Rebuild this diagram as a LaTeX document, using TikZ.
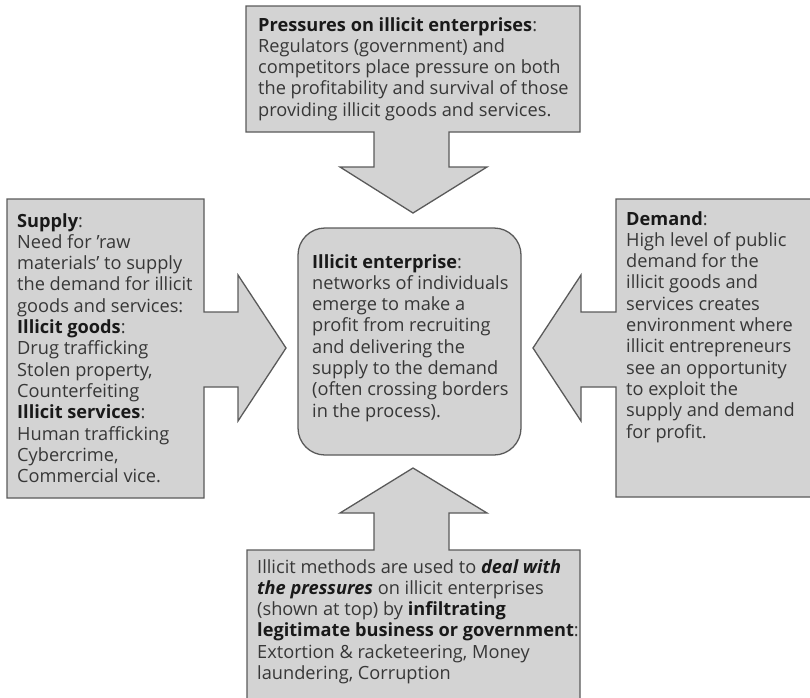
\documentclass[tikz,border=0pt]{standalone}
\usepackage{fontspec}
\setmainfont{Open Sans}
\definecolor{boxfill}{RGB}{211,211,211}
\definecolor{boxline}{RGB}{90,90,90}
\definecolor{txtcol}{RGB}{55,55,55}
\definecolor{hdcol}{RGB}{25,25,25}
\newcommand{\mybf}[1]{\textcolor{hdcol}{\textbf{#1}}}
\newcommand{\mybi}[1]{\textcolor{hdcol}{\textbf{\textit{#1}}}}
\begin{document}
\begin{tikzpicture}[x=1pt,y=-1pt,
  blk/.style={fill=boxfill, draw=boxline, line width=1.3pt, line join=miter},
  txt/.style={anchor=north west, inner sep=0pt, align=left, text=txtcol,
    font=\fontsize{18.2}{21.3}\selectfont}]
\useasboundingbox (0,0) rectangle (810,697);
\clip (0,0) rectangle (810,697);
% top block arrow
\draw[blk] (246,6) -- (580,6) -- (580,132) -- (449,132) -- (449,167) -- (487,167)
  -- (413,213) -- (340,167) -- (374,167) -- (374,132) -- (246,132) -- cycle;
% left block arrow
\draw[blk] (7,199) -- (204,199) -- (204,312) -- (238,312) -- (238,275) -- (286,348)
  -- (238,421) -- (238,387) -- (204,387) -- (204,498) -- (7,498) -- cycle;
% right block arrow
\draw[blk] (814,199) -- (616,199) -- (616,312) -- (581,312) -- (581,275) -- (533,348)
  -- (581,421) -- (581,387) -- (616,387) -- (616,497) -- (814,497) -- cycle;
% bottom block arrow
\draw[blk] (247,702) -- (247,550) -- (374,550) -- (374,513) -- (340,513) -- (413,468)
  -- (487,513) -- (449,513) -- (449,550) -- (580,550) -- (580,702) -- cycle;
% centre
\draw[blk, rounded corners=27pt] (298,228) rectangle (521,455);

\node[txt] (toptxt) at (258,17) {\mybf{Pressures on illicit enterprises}:\\
Regulators (government) and\\
competitors place pressure on both\\
the profitability and survival of those\\
providing illicit goods and services.};

\node[txt] (lefttxt) at (17,213) {\mybf{Supply}:\\
Need for ’raw\\
materials’ to supply\\
the demand for illicit\\
goods and services:\\
\mybf{Illicit goods}:\\
Drug trafficking\\
Stolen property,\\
Counterfeiting\\
\mybf{Illicit services}:\\
Human trafficking\\
Cybercrime,\\
Commercial vice.};

\node[txt] (centretxt) at (312,254) {\mybf{Illicit enterprise}:\\
networks of individuals\\
emerge to make a\\
profit from recruiting\\
and delivering the\\
supply to the demand\\
(often crossing borders\\
in the process).};

\node[txt] (righttxt) at (626,211) {\mybf{Demand}:\\
High level of public\\
demand for the\\
illicit goods and\\
services creates\\
environment where\\
illicit entrepreneurs\\
see an opportunity\\
to exploit the\\
supply and demand\\
for profit.};

\node[txt] (bottomtxt) at (257,559) {Illicit methods are used to \mybi{deal with}\\
\mybi{the pressures} on illicit enterprises\\
(shown at top) by \mybf{infiltrating}\\
\mybf{legitimate business or government}:\\
Extortion \& racketeering, Money\\
laundering, Corruption};
\end{tikzpicture}
\end{document}
